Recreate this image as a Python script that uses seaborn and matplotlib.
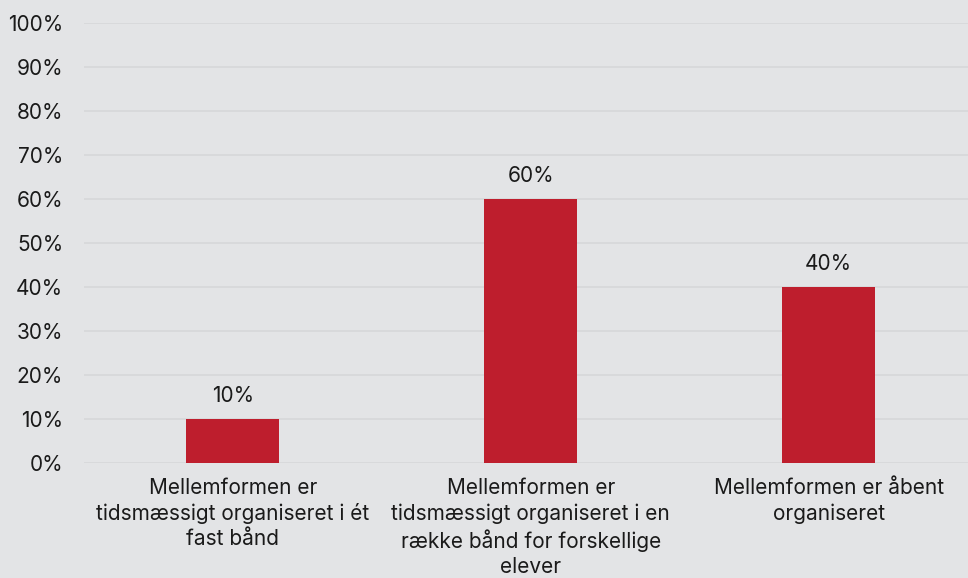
import pandas as pd
import matplotlib.pyplot as plt
import seaborn as sns

# Data
categories = [
    "Mellemformen er\ntidsmæssigt organiseret i ét\nfast bånd",
    "Mellemformen er\ntidsmæssigt organiseret i en\nrække bånd for forskellige\nelever",
    "Mellemformen er åbent\norganiseret",
]
values = [10, 60, 40]
yticks = list(range(0, 101, 10))
ytick_labels = [f"{t}%" for t in yticks]

BG = "#e3e4e6"
GRID = "#d6d7d9"
BAR = "#be1e2d"
TXT = "#1a1a1a"

sns.set_theme(style="white")
plt.rcParams.update({
    'figure.facecolor': BG,
    'axes.facecolor': BG,
    'font.family': ['Inter', 'DejaVu Sans'],
    'font.size': 15,
})

df = pd.DataFrame({'kategori': categories, 'andel': values})

fig = plt.figure(figsize=(9.68, 5.78), dpi=100)
ax = fig.add_axes([84 / 968, 115 / 578, (968 - 84) / 968, 440 / 578])

sns.barplot(data=df, x='kategori', y='andel', color=BAR, width=0.312,
            saturation=1, edgecolor='none', linewidth=0, ax=ax)

ax.set_ylim(0, 100)
ax.set_xlim(-0.5, 2.468)
ax.set_yticks(yticks)
ax.set_yticklabels(ytick_labels, fontsize=15, color=TXT)
ax.tick_params(axis='x', length=0, pad=11, labelsize=15, labelcolor=TXT)
ax.tick_params(axis='y', length=0, pad=15)
for lbl in ax.get_xticklabels():
    lbl.set_linespacing(1.3)
ax.yaxis.grid(True, color=GRID, linewidth=1.2)
ax.set_axisbelow(True)
for s in ax.spines.values():
    s.set_visible(False)
ax.set_xlabel('')
ax.set_ylabel('')

for container in ax.containers:
    ax.bar_label(container, labels=[f"{v}%" for v in values], padding=9,
                 fontsize=15, color=TXT)

fig.savefig('out.png', dpi=100, facecolor=BG)
